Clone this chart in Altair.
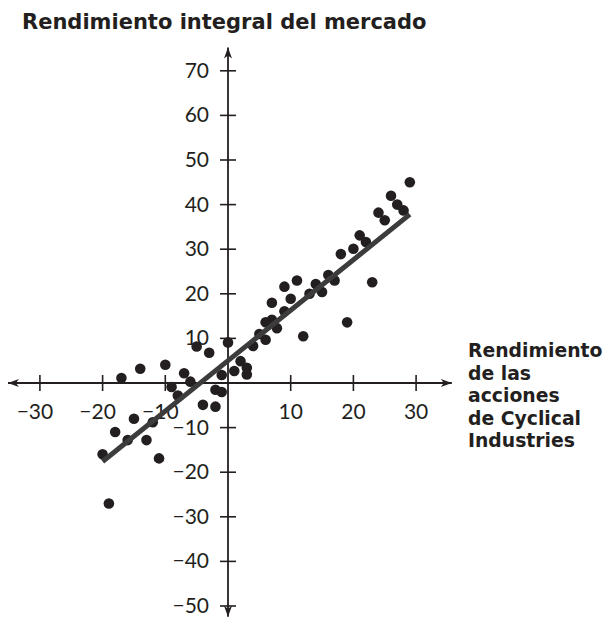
import altair as alt
import pandas as pd

# ---- data ----
ret_x = [-20, -19, -18, -16, -15, -17, -14, -13, -12, -11, -10, -9, -8, -7, -6, -4,
         -5, -3, -2, -2, -1, -1, 0, 1, 2, 3, 3, 4, 5, 6, 6, 7, 7.8, 7, 9, 9, 10, 11,
         12, 13, 14, 15, 16, 17, 18, 19, 20, 21, 22, 23, 24, 25, 26, 27, 28, 29]
ret_y = [-16, -27, -11, -12.8, -8, 1.1, 3.2, -12.8, -8.8, -16.9, 4.1, -0.9, -2.8, 2.2, 0.3, -4.9,
         8.2, 6.8, -5.3, -1.5, -2, 1.8, 9.1, 2.7, 4.9, 3.4, 1.9, 8.3, 11, 9.7, 13.6, 14.2, 12.3, 18, 16.1, 21.6, 18.9, 23,
         10.5, 20, 22.2, 20.4, 24.2, 23, 28.9, 13.6, 30.1, 33.1, 31.6, 22.6, 38.2, 36.5, 42, 40, 38.7, 45]
fit_x = [-20, 29]
fit_y = [-17.6, 37.8]
x_ticks = [-30, -20, -10, 10, 20, 30]
y_ticks = [70, 60, 50, 40, 30, 20, 10, -10, -20, -30, -40, -50]
x_axis_ends = [-35.1, 35.7]
y_axis_ends = [-52.4, 75.2]
title_text = "Rendimiento integral del mercado"
x_title_lines = ["Rendimiento", "de las", "acciones", "de Cyclical", "Industries"]

XD = [-35.09, 60.29]
YD = [-52.69, 84.08]
xs = alt.Scale(domain=XD, nice=False, zero=False)
ys = alt.Scale(domain=YD, nice=False, zero=False)
ink = "#231f20"


def fmt(v):
    return ("\u2212" if v < 0 else "") + str(abs(v))


def X(f="x"):
    return alt.X(f + ":Q", scale=xs, axis=None)


def Y(f="y"):
    return alt.Y(f + ":Q", scale=ys, axis=None)


pts_df = pd.DataFrame({"x": ret_x, "y": ret_y})
points = alt.Chart(pts_df).mark_circle(size=112, color=ink, opacity=1).encode(x=X(), y=Y())

fit_df = pd.DataFrame({"x": fit_x, "y": fit_y})
fit = alt.Chart(fit_df).mark_line(color="#3c3c3c", strokeWidth=5).encode(x=X(), y=Y())

xaxis = alt.Chart(pd.DataFrame({"x": [x_axis_ends[0]], "x2": [x_axis_ends[1]], "y": [0]})).mark_rule(
    color=ink, strokeWidth=1.8).encode(x=X(), x2="x2:Q", y=Y())
yaxis = alt.Chart(pd.DataFrame({"y": [y_axis_ends[0]], "y2": [y_axis_ends[1]], "x": [0]})).mark_rule(
    color=ink, strokeWidth=1.8).encode(y=Y(), y2="y2:Q", x=X())

xt_df = pd.DataFrame({"x": x_ticks, "y": [0] * len(x_ticks), "t": [fmt(v) for v in x_ticks]})
yt_df = pd.DataFrame({"y": y_ticks, "x": [0] * len(y_ticks), "t": [fmt(v) for v in y_ticks]})

xtick = alt.Chart(xt_df).mark_tick(orient="vertical", size=16, thickness=1.6, color=ink, opacity=1).encode(x=X(), y=Y())
ytick = alt.Chart(yt_df).mark_tick(orient="horizontal", size=16, thickness=1.6, color=ink, opacity=1).encode(x=X(), y=Y())

lab_font = dict(font="Lato", fontSize=21, color=ink)
xlab_neg = alt.Chart(xt_df[xt_df.x < 0]).mark_text(align="center", baseline="middle", dy=30, dx=-5, **lab_font).encode(
    x=X(), y=Y(), text="t:N")
xlab_pos = alt.Chart(xt_df[xt_df.x > 0]).mark_text(align="center", baseline="middle", dy=30, **lab_font).encode(
    x=X(), y=Y(), text="t:N")
ylab = alt.Chart(yt_df).mark_text(align="right", baseline="middle", dx=-19, dy=1, **lab_font).encode(
    x=X(), y=Y(), text="t:N")

arrow_df = pd.DataFrame({
    "x": [x_axis_ends[0], x_axis_ends[1], 0, 0],
    "y": [0, 0, y_axis_ends[0], y_axis_ends[1]],
    "s": ["M0,0 L2.2,-0.8 L1.6,0 L2.2,0.8 Z",
          "M0,0 L-2.2,-0.8 L-1.6,0 L-2.2,0.8 Z",
          "M0,0 L-0.8,-2.2 L0,-1.6 L0.8,-2.2 Z",
          "M0,0 L-0.8,2.2 L0,1.6 L0.8,2.2 Z"],
})
arrows = alt.Chart(arrow_df).mark_point(filled=True, size=100, color=ink, opacity=1, strokeWidth=0).encode(
    x=X(), y=Y(), shape=alt.Shape("s:N", scale=None))

title = alt.Chart(pd.DataFrame({"t": [title_text]})).mark_text(
    align="left", baseline="alphabetic", font="DejaVu Sans", fontWeight="bold", fontSize=21, color=ink
).encode(x=alt.value(14), y=alt.value(21), text="t:N")

xtitle = alt.Chart(pd.DataFrame({"k": [0]})).mark_text(
    text=x_title_lines, align="left", baseline="alphabetic", lineHeight=22.5,
    font="DejaVu Sans", fontWeight="bold", fontSize=18.8, color=ink
).encode(x=alt.value(460), y=alt.value(349))

chart = alt.layer(
    xaxis, yaxis, xtick, ytick, arrows, xlab_neg, xlab_pos, ylab, points, fit, title, xtitle
).properties(
    width=598, height=610, autosize=alt.AutoSizeParams(type="none"), padding=0, background="white"
).configure_view(stroke=None)

chart.save("out.html", embed_options={"renderer": "svg", "actions": False})
